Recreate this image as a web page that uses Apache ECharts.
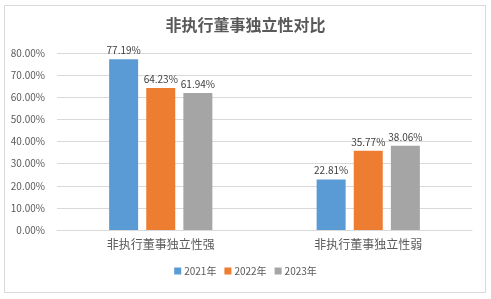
<!DOCTYPE html>
<html>
<head>
<meta charset="utf-8">
<script src="https://cdn.jsdelivr.net/npm/echarts@6/dist/echarts.min.js"></script>
<style>
  html, body { margin: 0; padding: 0; background: #fff; }
  #main { width: 491px; height: 299px; }
</style>
</head>
<body>
<div id="main"></div>
<script>
const categories = ['非执行董事独立性强', '非执行董事独立性弱'];
const seriesNames = ['2021年', '2022年', '2023年'];
const values2021 = [77.19, 22.81];
const values2022 = [64.23, 35.77];
const values2023 = [61.94, 38.06];
const colors = ['#5B9BD5', '#ED7D31', '#A5A5A5'];

const font = '"Microsoft YaHei", "Noto Sans CJK SC", sans-serif';
const chart = echarts.init(document.getElementById('main'));

const allValues = [values2021, values2022, values2023];

chart.setOption({
  backgroundColor: '#fff',
  animation: false,
  color: colors,
  graphic: [{
    type: 'rect',
    shape: { x: 4.5, y: 5.5, width: 481, height: 287 },
    style: { fill: 'none', stroke: '#d9d9d9', lineWidth: 1 },
    silent: true
  }],
  title: {
    text: '非执行董事独立性对比',
    left: 'center',
    top: 12,
    textStyle: { fontFamily: font, fontSize: 16, fontWeight: 'bold', color: '#595959' }
  },
  legend: {
    bottom: 18,
    left: 'center',
    itemWidth: 7,
    itemHeight: 7,
    itemGap: 8,
    icon: 'rect',
    textStyle: { fontFamily: font, fontSize: 10, color: '#595959', padding: [0, 0, 0, -2] },
    data: seriesNames
  },
  grid: { left: 57, right: 19, top: 53, bottom: 69 },
  xAxis: {
    type: 'category',
    data: categories,
    axisLine: { lineStyle: { color: '#d9d9d9' } },
    axisTick: { show: false },
    axisLabel: { fontFamily: font, fontSize: 12, color: '#595959', margin: 8 }
  },
  yAxis: {
    type: 'value',
    min: 0,
    max: 80,
    interval: 10,
    axisLine: { show: false },
    axisTick: { show: false },
    splitLine: { lineStyle: { color: '#d9d9d9' } },
    axisLabel: {
      fontFamily: font, fontSize: 10, color: '#595959', margin: 12,
      formatter: v => v.toFixed(2) + '%'
    }
  },
  series: seriesNames.map((name, i) => ({
    name: name,
    type: 'bar',
    data: allValues[i],
    barWidth: 29,
    barGap: '28%',
    barCategoryGap: '58%',
    label: {
      show: true,
      position: 'top',
      distance: 4,
      fontFamily: font,
      fontSize: 10,
      color: '#404040',
      formatter: p => p.value.toFixed(2) + '%'
    }
  }))
});
</script>
</body>
</html>
